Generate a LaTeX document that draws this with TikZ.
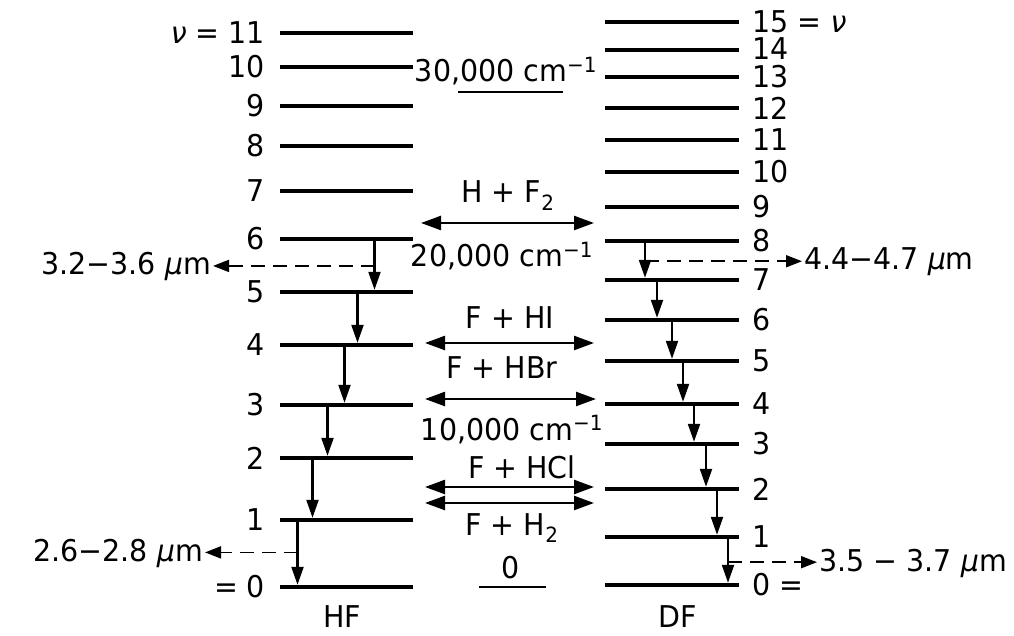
\documentclass[tikz,border=0pt]{standalone}
\usepackage{fontspec}
\setmainfont[FakeStretch=0.95]{DejaVu Sans}
\usepackage{tikz}
\usetikzlibrary{arrows.meta, positioning, calc}
\tikzstyle{hflevel} = [rectangle, fill=black, inner sep=0pt,
    minimum width=133pt, minimum height=4pt]
\tikzstyle{dflevel} = [hflevel, minimum width=134pt]
\tikzstyle{vlabel} = [inner sep=1pt]
\tikzstyle{cascade} = [-{Triangle[length=18pt, width=12pt]}, line width=2.2pt]
\tikzstyle{emit} = [-{Triangle[length=16pt, width=12pt]}, line width=1.8pt,
    dash pattern=on 14pt off 8pt]
\tikzstyle{react} = [{Triangle[length=20pt, width=14pt]}-{Triangle[length=20pt, width=14pt]},
    line width=2.4pt]
\tikzstyle{refline} = [line width=1.8pt]

\begin{document}
\begin{tikzpicture}[x=1pt, y=-1pt, every node/.style={inner sep=2pt, font=\fontsize{30}{36}\selectfont}]
    \useasboundingbox (0,0) rectangle (1014,636);

    % HF levels
    \node[hflevel] (hf11) at (346,33) {};  \node[vlabel, left=13pt of hf11] (hfl11) {\textit{ν} = 11};
    \node[hflevel] (hf10) at (346,67) {};  \node[vlabel, left=13pt of hf10] (hfl10) {10};
    \node[hflevel] (hf9) at (346,106) {};  \node[vlabel, left=13pt of hf9] (hfl9) {9};
    \node[hflevel] (hf8) at (346,146) {};  \node[vlabel, left=13pt of hf8] (hfl8) {8};
    \node[hflevel] (hf7) at (346,191) {};  \node[vlabel, left=13pt of hf7] (hfl7) {7};
    \node[hflevel] (hf6) at (346,239) {};  \node[vlabel, left=13pt of hf6] (hfl6) {6};
    \node[hflevel] (hf5) at (346,292) {};  \node[vlabel, left=13pt of hf5] (hfl5) {5};
    \node[hflevel] (hf4) at (346,345) {};  \node[vlabel, left=13pt of hf4] (hfl4) {4};
    \node[hflevel] (hf3) at (346,405) {};  \node[vlabel, left=13pt of hf3] (hfl3) {3};
    \node[hflevel] (hf2) at (346,458) {};  \node[vlabel, left=13pt of hf2] (hfl2) {2};
    \node[hflevel] (hf1) at (346,520) {};  \node[vlabel, left=13pt of hf1] (hfl1) {1};
    \node[hflevel] (hf0) at (346,587) {};  \node[vlabel, left=13pt of hf0] (hfl0) {= 0};
    \node (hfname) at (342,617) {HF};

    % DF levels
    \node[dflevel] (df15) at (672,22) {};  \node[vlabel, right=12pt of df15] (dfl15) {15 = \textit{ν}};
    \node[dflevel] (df14) at (672,50) {};  \node[vlabel, right=12pt of df14, yshift=1pt] (dfl14) {14};
    \node[dflevel] (df13) at (672,77) {};  \node[vlabel, right=12pt of df13] (dfl13) {13};
    \node[dflevel] (df12) at (672,108) {}; \node[vlabel, right=12pt of df12] (dfl12) {12};
    \node[dflevel] (df11) at (672,140) {}; \node[vlabel, right=12pt of df11] (dfl11) {11};
    \node[dflevel] (df10) at (672,172) {}; \node[vlabel, right=12pt of df10] (dfl10) {10};
    \node[dflevel] (df9) at (672,207) {};  \node[vlabel, right=12pt of df9] (dfl9) {9};
    \node[dflevel] (df8) at (672,241) {};  \node[vlabel, right=12pt of df8] (dfl8) {8};
    \node[dflevel] (df7) at (672,280) {};  \node[vlabel, right=12pt of df7] (dfl7) {7};
    \node[dflevel] (df6) at (672,320) {};  \node[vlabel, right=12pt of df6] (dfl6) {6};
    \node[dflevel] (df5) at (672,361) {};  \node[vlabel, right=12pt of df5] (dfl5) {5};
    \node[dflevel] (df4) at (672,404) {};  \node[vlabel, right=12pt of df4] (dfl4) {4};
    \node[dflevel] (df3) at (672,444) {};  \node[vlabel, right=12pt of df3] (dfl3) {3};
    \node[dflevel] (df2) at (672,489) {};  \node[vlabel, right=12pt of df2] (dfl2) {2};
    \node[dflevel] (df1) at (672,537) {};  \node[vlabel, right=12pt of df1] (dfl1) {1};
    \node[dflevel] (df0) at (672,585) {};  \node[vlabel, right=12pt of df0] (dfl0) {0 =};
    \node (dfname) at (678,617) {DF};

    % HF cascade
    \draw[cascade] ($(hf6.center)+(28.5,0)$) -- coordinate[pos=0.53] (hfe1) ($(hf5.north)+(28.5,0)$);
    \draw[cascade] ($(hf5.center)+(11.5,0)$) -- ($(hf4.north)+(11.5,0)$);
    \draw[cascade] ($(hf4.center)+(-1.5,0)$) -- ($(hf3.north)+(-1.5,0)$);
    \draw[cascade] ($(hf3.center)+(-18.5,0)$) -- ($(hf2.north)+(-18.5,0)$);
    \draw[cascade] ($(hf2.center)+(-33.5,0)$) -- ($(hf1.north)+(-33.5,0)$);
    \draw[cascade] ($(hf1.center)+(-48.5,0)$) -- coordinate[pos=0.5] (hfe2) ($(hf0.north)+(-48.5,0)$);

    % DF cascade
    \draw[cascade] ($(df8.center)+(-27,0)$) -- coordinate[pos=0.55] (dfe1) ($(df7.north)+(-27,0)$);
    \draw[cascade] ($(df7.center)+(-15,0)$) -- ($(df6.north)+(-15,0)$);
    \draw[cascade] ($(df6.center)+(0,0)$) -- ($(df5.north)+(0,0)$);
    \draw[cascade] ($(df5.center)+(11,0)$) -- ($(df4.north)+(11,0)$);
    \draw[cascade] ($(df4.center)+(22,0)$) -- ($(df3.north)+(22,0)$);
    \draw[cascade] ($(df3.center)+(34,0)$) -- ($(df2.north)+(34,0)$);
    \draw[cascade] ($(df2.center)+(45,0)$) -- ($(df1.north)+(45,0)$);
    \draw[cascade] ($(df1.center)+(56,0)$) -- coordinate[pos=0.55] (dfe2) ($(df0.north)+(56,0)$);

    % Emission bands
    \node[anchor=east] (hfw1) at (213,266) {3.2−3.6 \textit{μ}m};
    \node[anchor=east] (hfw2) at (205,553) {2.6−2.8 \textit{μ}m};
    \node[anchor=west] (dfw1) at (802,262) {4.4−4.7 \textit{μ}m};
    \node[anchor=west] (dfw2) at (817,563) {3.5 − 3.7 \textit{μ}m};
    \draw[emit] (hfe1) -- (hfe1 -| hfw1.east);
    \draw[emit] (hfe2) -- (hfe2 -| hfw2.east);
    \draw[emit] (dfe1) -- (dfe1 -| dfw1.west);
    \draw[emit] (dfe2) -- (dfe2 -| dfw2.west);

    % Energy scale and reactions
    \node[anchor=base] (e30) at (506,82) {30,000 cm\textsuperscript{−1}};
    \node[anchor=base] (rhf2) at (508,203) {H + F\textsubscript{2}};
    \node[anchor=base] (e20) at (502,267) {20,000 cm\textsuperscript{−1}};
    \node[anchor=base] (rfhi) at (510,328) {F + HI};
    \node[anchor=base] (rfhbr) at (502,378) {F + HBr};
    \node[anchor=base] (e10) at (512,440) {10,000 cm\textsuperscript{−1}};
    \node[anchor=base] (rfhcl) at (522,478) {F + HCl};
    \node[anchor=base] (rfh2) at (512,535) {F + H\textsubscript{2}};
    \node[anchor=base] (e0) at (511,578) {0};

    \coordinate (u30l) at (458,92);  \coordinate (u30r) at (563,92);
    \coordinate (u0l) at (479,587);  \coordinate (u0r) at (546,587);
    \draw[refline] (u30l) -- (u30r);
    \draw[refline] (u0l) -- (u0r);

    \coordinate (a1l) at (421,223);  \coordinate (a1r) at (594,223);
    \coordinate (a2l) at (425,343);  \coordinate (a2r) at (594,343);
    \coordinate (a3l) at (425,399);  \coordinate (a3r) at (596,399);
    \coordinate (a4l) at (425,487);  \coordinate (a4r) at (594,487);
    \coordinate (a5l) at (425,503);  \coordinate (a5r) at (594,503);
    \draw[react] (a1l) -- (a1r);
    \draw[react] (a2l) -- (a2r);
    \draw[react] (a3l) -- (a3r);
    \draw[react] (a4l) -- (a4r);
    \draw[react] (a5l) -- (a5r);
\end{tikzpicture}
\end{document}
